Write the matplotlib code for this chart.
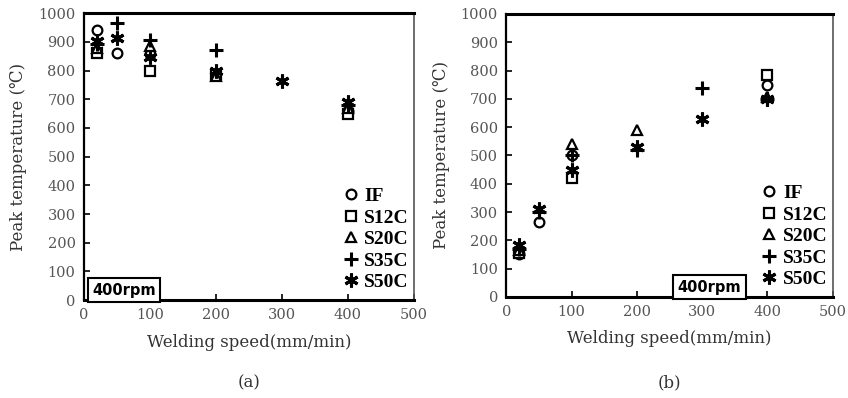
import matplotlib.pyplot as plt
import numpy as np

nan = np.nan
speeds = [20, 50, 100, 200, 300, 400]
labels = ["IF", "S12C", "S20C", "S35C", "S50C"]

# (a) peak temperature
a_IF = [940, 862, 858, nan, nan, 660]
a_S12C = [862, nan, 800, 783, nan, 650]
a_S20C = [880, nan, 885, 782, nan, 670]
a_S35C = [893, 965, 905, 870, nan, 680]
a_S50C = [903, 915, 848, 798, 765, 692]

# (b) peak temperature
b_IF = [150, 265, 500, nan, nan, 750]
b_S12C = [155, nan, 420, nan, nan, 785]
b_S20C = [165, nan, 540, 590, nan, 705]
b_S35C = [170, 300, 500, 520, 740, 700]
b_S50C = [185, 310, 450, 530, 630, 700]

yticks = list(range(0, 1001, 100))
xticks = list(range(0, 501, 100))

SERIF = ["DejaVu Serif", "Noto Sans CJK SC"]
LEG = ["Liberation Serif", "DejaVu Serif"]
markers = [
    dict(marker="o", ms=7, mfc="white", mec="black", mew=1.6),
    dict(marker="s", ms=7, mfc="white", mec="black", mew=1.6),
    dict(marker="^", ms=7.5, mfc="white", mec="black", mew=1.6),
    dict(marker="+", ms=10, mec="black", mew=2.2),
    dict(marker=(6, 2, 0), ms=10, mec="black", mew=2.2),
]

fig = plt.figure(figsize=(8.48, 3.98), dpi=100)
ax_a = fig.add_axes([0.099, 0.246, 0.389, 0.721])
ax_b = fig.add_axes([0.597, 0.254, 0.385, 0.711])


def draw(ax, series, box_x, caption):
    for vals, lab, mk in zip(series, labels, markers):
        ax.plot(speeds, vals, linestyle="none", color="black", label=lab, **mk)
    ax.set_xlim(0, 500)
    ax.set_ylim(0, 1000)
    ax.set_xticks(xticks)
    ax.set_yticks(yticks)
    ax.tick_params(direction="in", length=4, width=1.2, colors="black",
                   labelcolor="#555555", labelsize=10.5, pad=6)
    for t in ax.get_xticklabels() + ax.get_yticklabels():
        t.set_family(SERIF)
    ax.spines["top"].set_linewidth(2.2)
    ax.spines["bottom"].set_linewidth(2.2)
    ax.spines["left"].set_linewidth(1.6)
    ax.spines["right"].set_linewidth(1.2)
    ax.spines["right"].set_color("#555555")
    ax.set_xlabel("Welding speed(mm/min)", family=SERIF, fontsize=12,
                  color="#333333", labelpad=8)
    ax.set_ylabel("Peak temperature (\u2103)", family=SERIF, fontsize=12,
                  color="#333333", labelpad=8)
    ax.legend(loc="lower right", bbox_to_anchor=(1.02, -0.01), frameon=False,
              prop=dict(family=LEG, size=14, weight="bold"),
              handletextpad=0.1, labelspacing=0.2, handlelength=1.2,
              borderaxespad=0.2)
    ax.text(box_x, 0.035, "400rpm", transform=ax.transAxes, fontsize=10.5,
            weight="bold", family="DejaVu Sans", va="center", ha="left",
            bbox=dict(boxstyle="square,pad=0.3", fc="white", ec="black", lw=1.5))
    # caption under each panel, at a common figure height
    pos = ax.get_position()
    fig.text((pos.x0 + pos.x1) / 2, 0.038, caption, ha="center", va="center",
             family=SERIF, fontsize=12, color="#333333")


draw(ax_a, [a_IF, a_S12C, a_S20C, a_S35C, a_S50C], 0.025, "(a)")
draw(ax_b, [b_IF, b_S12C, b_S20C, b_S35C, b_S50C], 0.525, "(b)")

fig.savefig("out.png", dpi=100)
